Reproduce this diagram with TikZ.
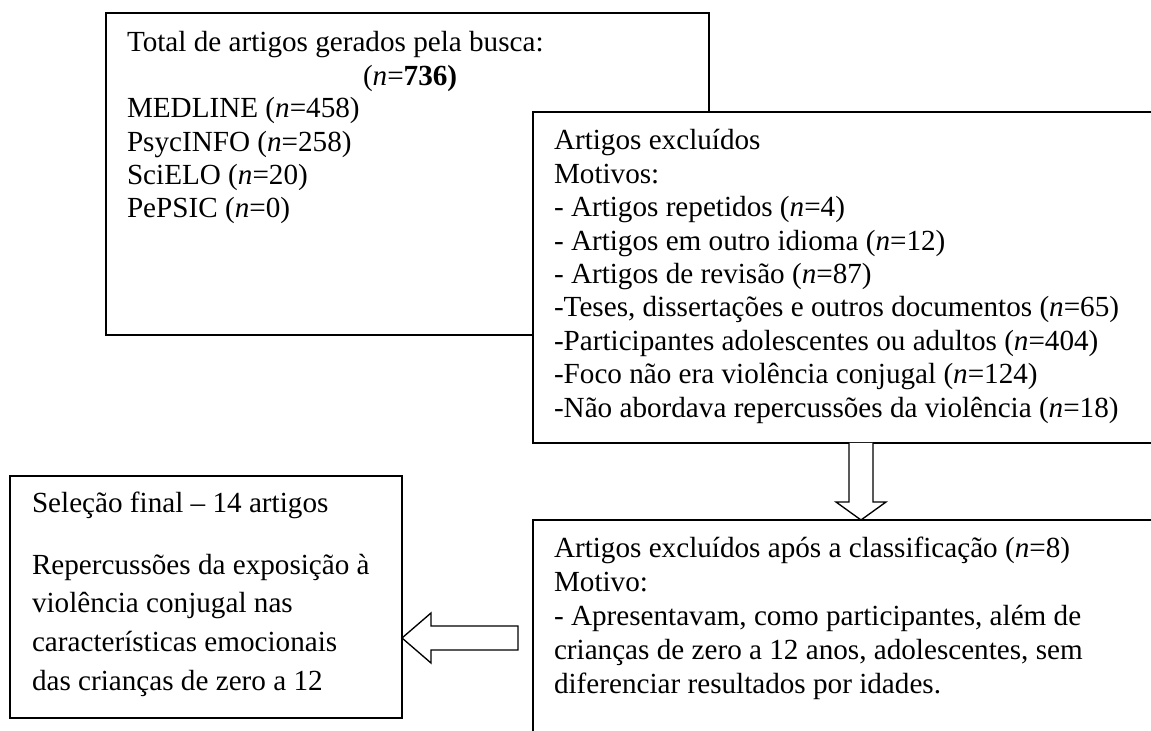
\documentclass[tikz,border=0pt]{standalone}
\usepackage{fontspec}
\setmainfont{Liberation Serif}
\usetikzlibrary{calc,fit}
\begin{document}
\begin{tikzpicture}[x=0.4115pt,y=-0.4115pt,
  box/.style={draw=black,line width=0.8pt,fill=white,inner sep=0pt,outer sep=0pt,rectangle},
  txt/.style={anchor=base west,inner sep=0pt,outer sep=0pt,font=\fontsize{12}{13.8}\selectfont},
  blockarrow/.style={draw=black,line width=0.55pt,fill=white,line join=miter}]
\useasboundingbox (0,0) rectangle (1151,731);
\clip (0,0) rectangle (1151,731);
% corner coordinates
\coordinate (b1nw) at (106,13);  \coordinate (b1se) at (709,335);
\coordinate (b2nw) at (533,112); \coordinate (b2se) at (1165,443);
\coordinate (b3nw) at (533,520); \coordinate (b3se) at (1165,760);
\coordinate (b4nw) at (10,476);  \coordinate (b4se) at (402,718);
% boxes
\node[box,fit=(b1nw)(b1se)] (b1) {};
\node[box,fit=(b2nw)(b2se)] (b2) {};
\node[box,fit=(b3nw)(b3se)] (b3) {};
\node[box,fit=(b4nw)(b4se)] (b4) {};
% box 1 text
\node[txt] (t1a) at (127,52) {Total de artigos gerados pela busca:};
\node[txt] (t1b) at (363,86) {(\textit{n}=\textbf{736)}};
\node[txt] (t1c) at (127,118) {MEDLINE (\textit{n}=458)};
\node[txt] (t1d) at (127,152) {PsycINFO (\textit{n}=258)};
\node[txt] (t1e) at (127,185) {SciELO (\textit{n}=20)};
\node[txt] (t1f) at (127,218) {PePSIC (\textit{n}=0)};
% box 2 text
\node[txt] (t2a) at (554,150.0) {Artigos excluídos};
\node[txt] (t2b) at (554,183.4) {Motivos:};
\node[txt] (t2c) at (554,216.8) {- Artigos repetidos (\textit{n}=4)};
\node[txt] (t2d) at (554,250.2) {- Artigos em outro idioma (\textit{n}=12)};
\node[txt] (t2e) at (554,283.6) {- Artigos de revisão (\textit{n}=87)};
\node[txt] (t2f) at (554,317.0) {-Teses, dissertações e outros documentos (\textit{n}=65)};
\node[txt] (t2g) at (554,350.4) {-Participantes adolescentes ou adultos (\textit{n}=404)};
\node[txt] (t2h) at (554,383.8) {-Foco não era violência conjugal (\textit{n}=124)};
\node[txt] (t2i) at (554,417.2) {-Não abordava repercussões da violência (\textit{n}=18)};
% box 3 text
\node[txt] (t3a) at (554,558) {Artigos excluídos após a classificação (\textit{n}=8)};
\node[txt] (t3b) at (554,592) {Motivo:};
\node[txt] (t3c) at (554,626) {- Apresentavam, como participantes, além de};
\node[txt] (t3d) at (554,660) {crianças de zero a 12 anos, adolescentes, sem};
\node[txt] (t3e) at (554,694) {diferenciar resultados por idades.};
% box 4 text
\node[txt] (t4a) at (32,513) {Seleção final – 14 artigos};
\node[txt] (t4b) at (32,575) {Repercussões da exposição à};
\node[txt] (t4c) at (32,613) {violência conjugal nas};
\node[txt] (t4d) at (32,652) {características emocionais};
\node[txt] (t4e) at (32,691) {das crianças de zero a 12};
% down block arrow from b2 to b3
\coordinate (d1) at (b2.south -| 861,0);
\coordinate (d2) at (b3.north -| 861,0);
\draw[blockarrow] ($(d1)+(-12,0)$) -- ($(d2)+(-12,-18)$) -- ($(d2)+(-25,-18)$) -- (d2)
  -- ($(d2)+(25,-18)$) -- ($(d2)+(12,-18)$) -- ($(d1)+(12,0)$);
% left block arrow from b3 to b4
\coordinate (l1) at (518,638);
\coordinate (l2) at (b4.east |- l1);
\draw[blockarrow] ($(l1)+(0,-12)$) -- ($(l2)+(29,-12)$) -- ($(l2)+(29,-25)$) -- (l2)
  -- ($(l2)+(29,25)$) -- ($(l2)+(29,12)$) -- ($(l1)+(0,12)$) -- cycle;
\end{tikzpicture}
\end{document}
